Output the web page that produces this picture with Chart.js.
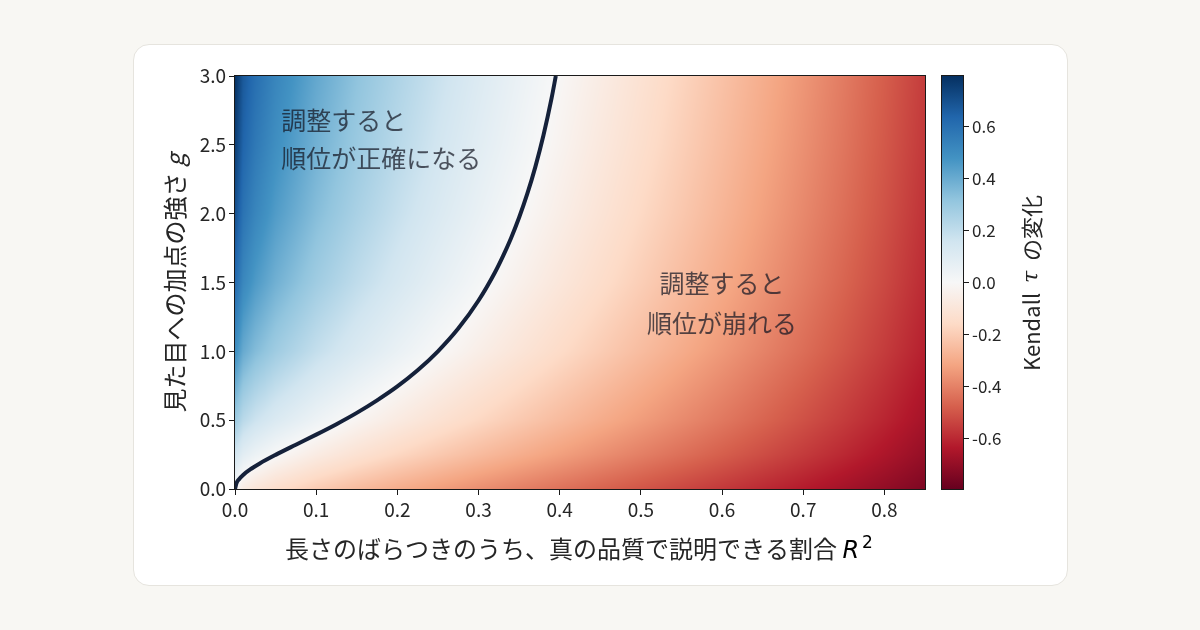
<!DOCTYPE html>
<html>
<head>
<meta charset="utf-8">
<script src="https://cdn.jsdelivr.net/npm/chart.js@4.4.1/dist/chart.umd.min.js"></script>
<style>
html, body { margin: 0; padding: 0; background: #f8f7f3; }
#wrap { position: relative; width: 1200px; height: 630px; overflow: hidden; }
.card { position: absolute; left: 133px; top: 44px; width: 935px; height: 542px; background: #fff;
        border: 1px solid #e6e4de; border-radius: 16px; box-sizing: border-box; }
canvas { position: absolute; left: 0; top: 0; }
</style>
</head>
<body>
<div id="wrap">
  <div class="card"></div>
  <canvas id="main" width="1200" height="630"></canvas>
  <canvas id="cbar" width="1200" height="630"></canvas>
</div>
<script>
// 横軸: R^2 の格子, 縦軸: g の格子
var r2Values = [0, 0.01, 0.025, 0.05, 0.1, 0.15, 0.2, 0.25, 0.3, 0.35, 0.4, 0.45, 0.5, 0.55, 0.6, 0.65, 0.7, 0.75, 0.8, 0.85];
var gValues = [0, 0.25, 0.5, 1, 1.5, 2, 2.5, 3];
// Kendall tau の変化 (行 = g, 列 = R^2)
var tauChange = [
  [0.000, -0.064, -0.101, -0.144, -0.205, -0.253, -0.295, -0.333, -0.369, -0.403, -0.436, -0.468, -0.500, -0.532, -0.564, -0.597, -0.631, -0.667, -0.705, -0.747],
  [0.156,  0.088,  0.047,  0.001, -0.067, -0.121, -0.169, -0.212, -0.253, -0.292, -0.330, -0.368, -0.405, -0.442, -0.480, -0.519, -0.559, -0.601, -0.647, -0.697],
  [0.295,  0.218,  0.171,  0.119,  0.043, -0.019, -0.072, -0.121, -0.167, -0.211, -0.254, -0.296, -0.337, -0.379, -0.421, -0.465, -0.510, -0.557, -0.607, -0.663],
  [0.500,  0.404,  0.348,  0.285,  0.193,  0.120,  0.057,  0.000, -0.053, -0.104, -0.154, -0.202, -0.250, -0.298, -0.346, -0.396, -0.446, -0.500, -0.557, -0.620],
  [0.626,  0.518,  0.456,  0.385,  0.284,  0.204,  0.136,  0.073,  0.015, -0.041, -0.094, -0.146, -0.197, -0.249, -0.301, -0.354, -0.409, -0.466, -0.527, -0.595],
  [0.705,  0.590,  0.525,  0.450,  0.343,  0.259,  0.186,  0.121,  0.060,  0.002, -0.054, -0.109, -0.163, -0.216, -0.271, -0.327, -0.384, -0.443, -0.507, -0.578],
  [0.758,  0.640,  0.571,  0.494,  0.383,  0.297,  0.222,  0.154,  0.091,  0.032, -0.026, -0.083, -0.138, -0.194, -0.250, -0.307, -0.366, -0.427, -0.493, -0.565],
  [0.795,  0.675,  0.605,  0.526,  0.413,  0.324,  0.248,  0.179,  0.114,  0.053, -0.006, -0.063, -0.120, -0.177, -0.234, -0.292, -0.352, -0.415, -0.482, -0.556]
];
// 変化ゼロの境界線
var contourR2 = [0, 0.002, 0.005, 0.01, 0.02, 0.03, 0.05, 0.075, 0.1, 0.125, 0.15, 0.175, 0.2, 0.225, 0.25, 0.275, 0.3, 0.32, 0.33, 0.34, 0.35, 0.36, 0.37, 0.38, 0.39, 0.3952];
var contourG  = [0, 0.045, 0.071, 0.102, 0.147, 0.184, 0.248, 0.322, 0.395, 0.471, 0.553, 0.644, 0.745, 0.862, 1.0, 1.165, 1.369, 1.571, 1.690, 1.822, 1.972, 2.143, 2.340, 2.569, 2.839, 3.0];

var xTicks = [0, 0.1, 0.2, 0.3, 0.4, 0.5, 0.6, 0.7, 0.8];
var yTicks = [0, 0.5, 1, 1.5, 2, 2.5, 3];
var cbTicks = [-0.6, -0.4, -0.2, 0, 0.2, 0.4, 0.6];
var vMin = -0.795, vMax = 0.795;

var RDBU = ['#67001f', '#b2182b', '#d6604d', '#f4a582', '#fddbc7', '#f7f7f7', '#d1e5f0', '#92c5de', '#4393c3', '#2166ac', '#053061'];
var FONT = '"Noto Sans CJK JP", "Noto Sans", sans-serif';
var TEXT = '#262626';

Chart.defaults.font.family = FONT;
Chart.defaults.color = TEXT;

var RDBU_RGB = RDBU.map(function (h) {
  return [parseInt(h.substr(1, 2), 16), parseInt(h.substr(3, 2), 16), parseInt(h.substr(5, 2), 16)];
});
function rdbu(v) {
  var t = (v - vMin) / (vMax - vMin);
  t = Math.max(0, Math.min(1, t)) * 10;
  var i = Math.min(9, Math.floor(t)), f = t - i;
  var a = RDBU_RGB[i], b = RDBU_RGB[i + 1];
  return [a[0] + (b[0] - a[0]) * f, a[1] + (b[1] - a[1]) * f, a[2] + (b[2] - a[2]) * f];
}
function setTicks(vals) {
  return function (scale) { scale.ticks = vals.map(function (v) { return { value: v }; }); };
}
// 格子上の位置 (区間番号と区間内の割合)
function locate(arr, v) {
  if (v <= arr[0]) return [0, 0];
  for (var i = 0; i < arr.length - 1; i++) {
    if (v <= arr[i + 1]) return [i, (v - arr[i]) / (arr[i + 1] - arr[i])];
  }
  return [arr.length - 2, 1];
}

// ヒートマップ本体 (双線形の表示補間)
var heatmapPlugin = {
  id: 'heatmap',
  beforeDatasetsDraw: function (chart) {
    var ctx = chart.ctx, a = chart.chartArea, x = chart.scales.x, y = chart.scales.y;
    var L = Math.round(a.left), T = Math.round(a.top);
    var W = Math.round(a.right) - L, H = Math.round(a.bottom) - T;
    var off = document.createElement('canvas');
    off.width = W; off.height = H;
    var octx = off.getContext('2d');
    var img = octx.createImageData(W, H);
    var cols = [], rows = [];
    for (var px = 0; px < W; px++) cols.push(locate(r2Values, x.getValueForPixel(L + px + 0.5)));
    for (var py = 0; py < H; py++) rows.push(locate(gValues, y.getValueForPixel(T + py + 0.5)));
    for (py = 0; py < H; py++) {
      var rj = rows[py][0], fy = rows[py][1];
      var r0 = tauChange[rj], r1 = tauChange[rj + 1];
      for (px = 0; px < W; px++) {
        var ci = cols[px][0], fx = cols[px][1];
        var v0 = r0[ci] + (r0[ci + 1] - r0[ci]) * fx;
        var v1 = r1[ci] + (r1[ci + 1] - r1[ci]) * fx;
        var c = rdbu(v0 + (v1 - v0) * fy), k = (py * W + px) * 4;
        img.data[k] = c[0]; img.data[k + 1] = c[1]; img.data[k + 2] = c[2]; img.data[k + 3] = 255;
      }
    }
    octx.putImageData(img, 0, 0);
    ctx.drawImage(off, L, T);
  },
  afterDatasetsDraw: function (chart) {
    var ctx = chart.ctx, x = chart.scales.x, y = chart.scales.y;
    ctx.save();
    ctx.font = '25px ' + FONT;
    ctx.fillStyle = 'rgba(20,22,34,0.72)';
    ctx.textBaseline = 'middle';
    ctx.textAlign = 'left';
    ctx.fillText('調整すると', x.getPixelForValue(0.057), y.getPixelForValue(2.68));
    ctx.fillText('順位が正確になる', x.getPixelForValue(0.057), y.getPixelForValue(2.40));
    ctx.textAlign = 'center';
    ctx.fillText('調整すると', x.getPixelForValue(0.6), y.getPixelForValue(1.49));
    ctx.fillText('順位が崩れる', x.getPixelForValue(0.6), y.getPixelForValue(1.205));
    ctx.restore();
  },
  afterDraw: function (chart) {
    var ctx = chart.ctx, a = chart.chartArea;
    ctx.save();
    // 枠線
    ctx.strokeStyle = '#1a1a1a';
    ctx.lineWidth = 1;
    ctx.strokeRect(Math.round(a.left) - 0.5, Math.round(a.top) - 0.5, Math.round(a.right - a.left) + 1, Math.round(a.bottom - a.top) + 1);
    // 横軸タイトル
    var s1 = '長さのばらつきのうち、真の品質で説明できる割合 ';
    var f1 = '24px ' + FONT, fR = 'italic 24px "DejaVu Sans"', fS = '17px "DejaVu Sans"';
    ctx.fillStyle = TEXT;
    ctx.textBaseline = 'alphabetic';
    ctx.textAlign = 'left';
    ctx.font = f1; var w1 = ctx.measureText(s1).width;
    ctx.font = fR; var wR = ctx.measureText('R').width;
    ctx.font = fS; var wS = ctx.measureText('2').width;
    var tx = 579 - (w1 + wR + 3 + wS) / 2, ty = 558;
    ctx.font = f1; ctx.fillText(s1, tx, ty);
    ctx.fillStyle = '#000';
    ctx.font = fR; ctx.fillText('R', tx + w1, ty);
    ctx.font = fS; ctx.fillText('2', tx + w1 + wR + 3, ty - 10);
    ctx.fillStyle = TEXT;
    // 縦軸タイトル
    var s2 = '見た目への加点の強さ ';
    var fg = 'italic 24px ' + FONT;
    ctx.font = f1; var w2 = ctx.measureText(s2).width;
    ctx.font = fg; var wg = ctx.measureText('g').width;
    ctx.translate(184, 283);
    ctx.rotate(-Math.PI / 2);
    var sx = -(w2 + wg) / 2;
    ctx.font = f1; ctx.fillText(s2, sx, 0);
    ctx.font = fg; ctx.fillText('g', sx + w2, 0);
    ctx.restore();
  }
};

new Chart(document.getElementById('main'), {
  type: 'scatter',
  data: {
    datasets: [{
      data: contourR2.map(function (v, i) { return { x: v, y: contourG[i] }; }),
      showLine: true,
      borderColor: '#15213a',
      borderWidth: 4,
      pointRadius: 0,
      cubicInterpolationMode: 'monotone'
    }]
  },
  options: {
    responsive: false,
    animation: false,
    devicePixelRatio: 1,
    layout: { padding: { left: 150, right: 275, top: 76, bottom: 91 } },
    plugins: { legend: { display: false }, tooltip: { enabled: false } },
    scales: {
      x: {
        type: 'linear', min: 0, max: 0.85,
        afterBuildTicks: setTicks(xTicks),
        afterFit: function (s) { s.height = 50; },
        grid: { drawOnChartArea: false, drawTicks: true, tickLength: 6, tickWidth: 1, tickColor: '#1a1a1a' },
        border: { display: false },
        ticks: { padding: 3, color: TEXT, font: { size: 19 }, maxRotation: 0,
                 callback: function (v) { return Number(v).toFixed(1); } }
      },
      y: {
        type: 'linear', min: 0, max: 3,
        afterBuildTicks: setTicks(yTicks),
        afterFit: function (s) { s.width = 85; },
        grid: { drawOnChartArea: false, drawTicks: true, tickLength: 6, tickWidth: 1, tickColor: '#1a1a1a' },
        border: { display: false },
        ticks: { padding: 3, color: TEXT, font: { size: 19 },
                 callback: function (v) { return Number(v).toFixed(1); } }
      }
    }
  },
  plugins: [heatmapPlugin]
});

// カラーバー
var colorbarPlugin = {
  id: 'colorbar',
  beforeDatasetsDraw: function (chart) {
    var ctx = chart.ctx, a = chart.chartArea;
    var grad = ctx.createLinearGradient(0, a.bottom, 0, a.top);
    RDBU.forEach(function (c, i) { grad.addColorStop(i / (RDBU.length - 1), c); });
    ctx.save();
    ctx.fillStyle = grad;
    ctx.fillRect(a.left, a.top, a.right - a.left, a.bottom - a.top);
    ctx.strokeStyle = '#1a1a1a';
    ctx.lineWidth = 1;
    ctx.strokeRect(Math.round(a.left) - 0.5, Math.round(a.top) - 0.5, Math.round(a.right - a.left) + 1, Math.round(a.bottom - a.top) + 1);
    ctx.restore();
  },
  afterDraw: function (chart) {
    var ctx = chart.ctx;
    var p1 = 'Kendall  ', p2 = 'τ', p3 = '  の変化';
    var fN = '22px ' + FONT, fI = 'italic 22px "DejaVu Serif"';
    ctx.save();
    ctx.fillStyle = TEXT;
    ctx.textBaseline = 'middle';
    ctx.font = fN; var w1 = ctx.measureText(p1).width, w3 = ctx.measureText(p3).width;
    ctx.font = fI; var w2 = ctx.measureText(p2).width;
    ctx.translate(1032, 283);
    ctx.rotate(-Math.PI / 2);
    var sx = -(w1 + w2 + w3) / 2;
    ctx.font = fN; ctx.fillText(p1, sx, 0);
    ctx.font = fI; ctx.fillText(p2, sx + w1, 0);
    ctx.font = fN; ctx.fillText(p3, sx + w1 + w2, 0);
    ctx.restore();
  }
};

new Chart(document.getElementById('cbar'), {
  type: 'scatter',
  data: { datasets: [{ data: [] }] },
  options: {
    responsive: false,
    animation: false,
    devicePixelRatio: 1,
    layout: { padding: { left: 942, right: 177, top: 76, bottom: 141 } },
    plugins: { legend: { display: false }, tooltip: { enabled: false } },
    scales: {
      x: { display: false, min: 0, max: 1 },
      y: {
        type: 'linear', position: 'right', min: vMin, max: vMax,
        afterBuildTicks: setTicks(cbTicks),
        afterFit: function (s) { s.width = 60; },
        grid: { drawOnChartArea: false, drawTicks: true, tickLength: 6, tickWidth: 1, tickColor: '#1a1a1a' },
        border: { display: false },
        ticks: { padding: 3, color: TEXT, font: { size: 17 },
                 callback: function (v) { return Number(v).toFixed(1); } }
      }
    }
  },
  plugins: [colorbarPlugin]
});
</script>
</body>
</html>
